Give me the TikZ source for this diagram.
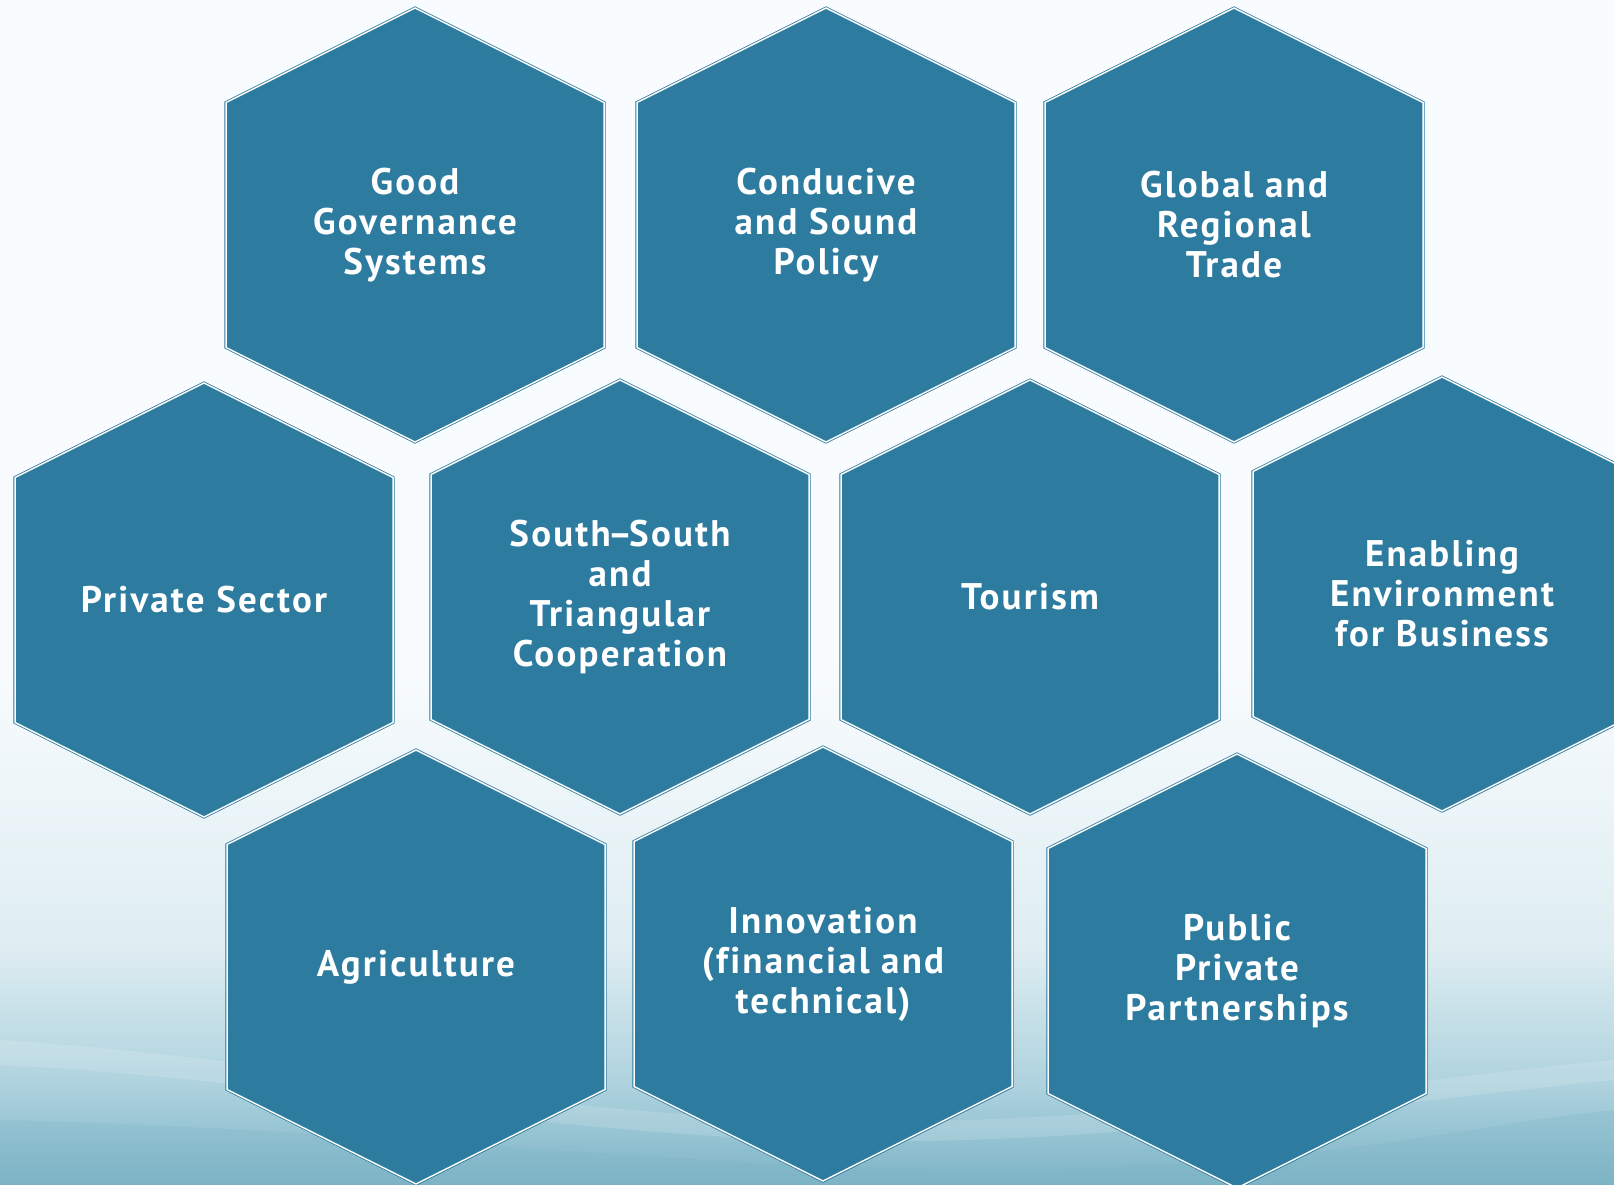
\documentclass[tikz,border=0pt]{standalone}
\usepackage{fontspec}
\setmainfont{PT Sans}
\newfontfamily\cellfont{PT Sans}[LetterSpace=6, Ligatures=NoCommon]
\definecolor{hexblue}{RGB}{45,123,159}
\definecolor{bgtop}{RGB}{249,252,254}
\definecolor{bgmid}{RGB}{222,237,242}
\definecolor{bglow}{RGB}{172,209,221}
\definecolor{bgbot}{RGB}{124,180,198}
\begin{document}
\begin{tikzpicture}[x=1pt,y=-1pt,
  cell/.style={fill=hexblue, draw=hexblue, line width=0.8pt,
    double=white, double distance=1.5pt, line join=miter},
  celltext/.style={text=white, align=center,
    font=\cellfont\fontsize{37}{40}\selectfont\bfseries}]
\useasboundingbox (0,0) rectangle (1614,1184);
\clip (0,0) rectangle (1614,1184);

% background: pale at the top, sea-blue towards the bottom
\fill[bgtop] (0,0) rectangle (1614,660);
\shade[top color=bgtop, bottom color=bgmid] (0,659) rectangle (1614,950);
\shade[top color=bgmid, bottom color=bglow] (0,949) rectangle (1614,1090);
\shade[top color=bglow, bottom color=bgbot] (0,1089) rectangle (1614,1185);
% soft wave streaks
\fill[white, opacity=0.14] (0,1040) .. controls (300,1060) and (500,1110) .. (800,1120)
  .. controls (1100,1130) and (1400,1080) .. (1614,1060) -- (1614,1080)
  .. controls (1400,1100) and (1100,1150) .. (800,1140)
  .. controls (500,1130) and (300,1080) .. (0,1065) -- cycle;
\fill[bgbot, opacity=0.25] (0,1120) .. controls (400,1130) and (700,1170) .. (1000,1170)
  .. controls (1300,1170) and (1500,1120) .. (1614,1110) -- (1614,1184) -- (0,1184) -- cycle;

% one hexagonal cell: name, centre x, centre y, label
\def\hexcell#1#2#3#4{%
  \fill[cell] (#2,#3) ++(0,-217) -- ++(189,94.5) -- ++(0,245) -- ++(-189,94.5)
    -- ++(-189,-94.5) -- ++(0,-245) -- cycle;
  \node[celltext] (#1) at (#2,#3) {#4};}

\hexcell{gov}{415}{225}{Good\\Governance\\Systems}
\hexcell{policy}{826}{225}{Conducive\\and Sound\\Policy}
\hexcell{trade}{1234}{225}{Global and\\Regional\\Trade}

\hexcell{private}{204}{600}{Private Sector}
\hexcell{south}{620}{597}{South\kern-3pt–\kern-3pt South\\and\\Triangular\\Cooperation}
\hexcell{tourism}{1030}{597}{Tourism}
\hexcell{enabling}{1442}{594}{Enabling\\Environment\\for Business}

\hexcell{agri}{416}{967}{Agriculture}
\hexcell{innov}{823}{964}{Innovation\\(financial and\\technical)}
\hexcell{ppp}{1237}{971}{Public\\Private\\Partnerships}
\end{tikzpicture}
\end{document}
